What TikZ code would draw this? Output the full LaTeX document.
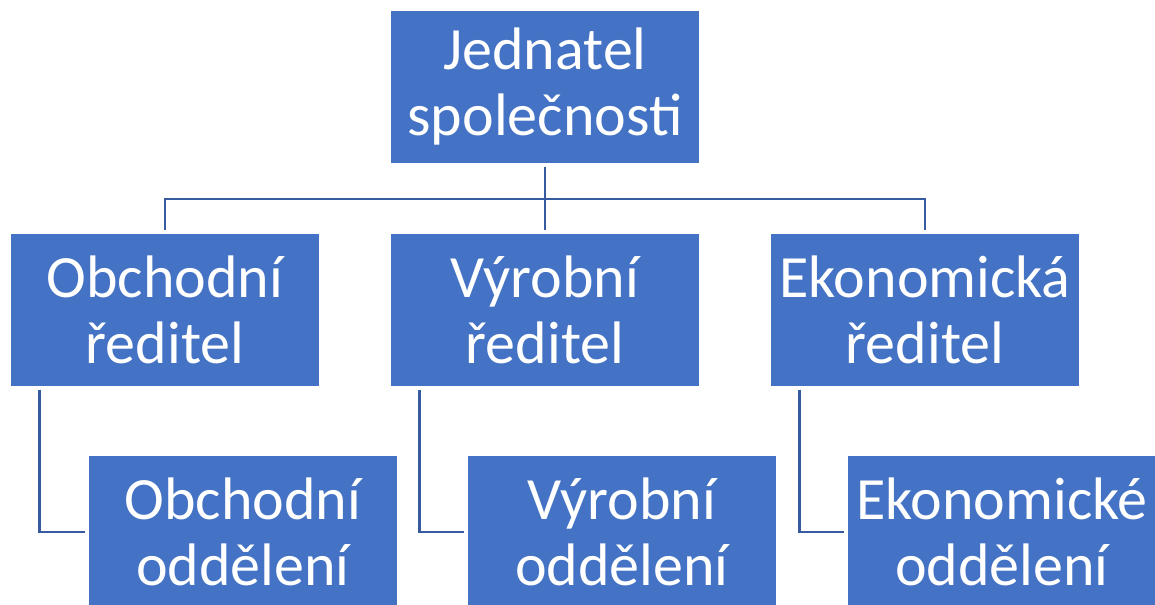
\documentclass[tikz,border=0pt]{standalone}
\usepackage{fontspec}
\setmainfont{Carlito}
\usepackage{tikz}
\definecolor{orgblue}{RGB}{68,114,196}
\definecolor{orgline}{RGB}{56,90,158}

\begin{document}
\begin{tikzpicture}[x=0.75pt, y=-0.75pt]
    \tikzset{
        unit/.style={
            draw=white, line width=0.8pt, fill=orgblue,
            text=white, align=center, inner sep=0pt,
            minimum width=232.5pt, minimum height=114.75pt,
            font=\fontsize{45pt}{49.5pt}\selectfont
        },
        link/.style={
            draw=orgline, line width=1.6pt,
            shorten <=2pt, shorten >=2pt
        },
    }

    \path[use as bounding box, clip] (0,0) rectangle (1155,605);

    % ==== Top: managing director ====
    \node[unit] (ceo) at (545,87) {Jednatel\\společnosti};

    % ==== Middle row: directors ====
    \node[unit] (sales) at (165,310) {Obchodní\\ředitel};
    \node[unit] (prod)  at (545,310) {Výrobní\\ředitel};
    \node[unit] (econ)  at (925,310) {Ekonomická\\ředitel};

    % ==== Bottom row: departments ====
    \node[unit] (salesdep) at (243,532) {Obchodní\\oddělení};
    \node[unit] (proddep)  at (622,532) {Výrobní\\oddělení};
    \node[unit] (econdep)  at (1002,532) {Ekonomické\\oddělení};

    % ==== Links ====
    \coordinate (bus) at (545,199);
    \draw[link] (ceo.south) -- (prod.north);
    \draw[link, shorten <=0pt] (bus) -| (sales.north);
    \draw[link, shorten <=0pt] (bus) -| (econ.north);

    \draw[link] ([xshift=22.5pt]sales.south west) |- (salesdep.west);
    \draw[link] ([xshift=22.5pt]prod.south west)  |- (proddep.west);
    \draw[link] ([xshift=22.5pt]econ.south west)  |- (econdep.west);
\end{tikzpicture}
\end{document}
